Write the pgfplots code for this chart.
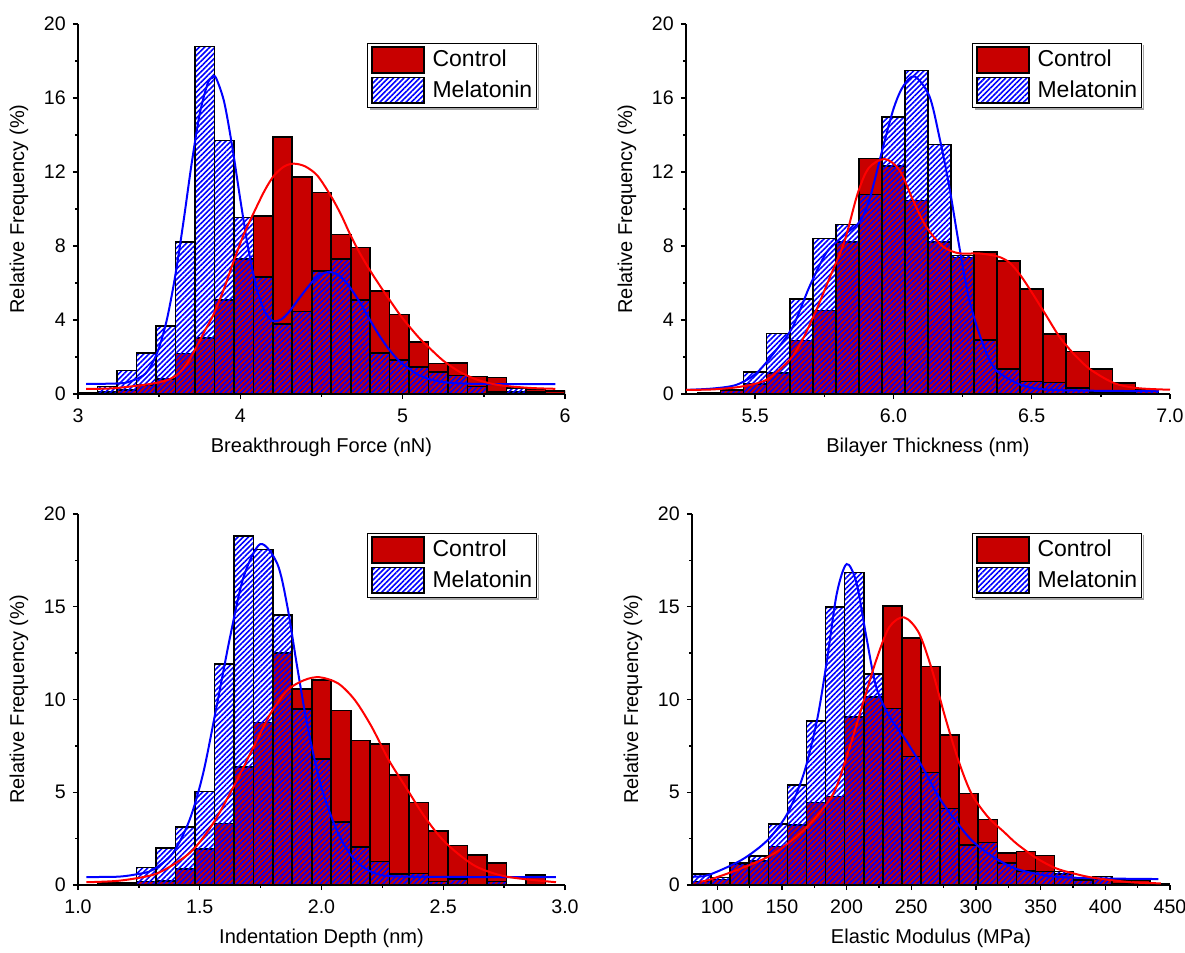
\documentclass[border=0pt]{standalone}
\usepackage{fontspec}
\setmainfont{Liberation Sans}
\usepackage{pgfplots}
\pgfplotsset{compat=1.18}
\usetikzlibrary{patterns.meta}

\definecolor{ctrlred}{RGB}{200,0,0}
\definecolor{fitblue}{RGB}{0,0,255}
\definecolor{fitred}{RGB}{255,0,0}

\pgfplotsset{
  histleg/.style={legend image code/.code={\draw[##1] (0pt,-6.4pt) rectangle (26pt,6.4pt);}},
  ctrlbars/.style={ybar, bar width=#1, bar shift=0pt, fill=ctrlred, draw=black, line width=0.8pt, histleg},
  melbars/.style={ybar, bar width=#1, bar shift=0pt, draw=black, line width=0.8pt,
    pattern={Lines[angle=45,distance=1.85pt,line width=0.8pt]}, pattern color=fitblue, histleg},
  fitline/.style={smooth, line width=1pt, forget plot, mark=none, draw=#1, fill=none},
  histpanel/.style={
    scale only axis,
    axis x line*=bottom,
    axis y line*=left,
    tick align=outside,
    major tick length=2.6pt,
    minor tick length=1.5pt,
    every tick/.style={black, line width=0.7pt},
    axis line style={black, line width=0.75pt},
    ymin=0, ymax=20,
    minor x tick num=1,
    minor y tick num=1,
    /pgf/number format/assume math mode=true,
    tick label style={font=\fontsize{9.8}{11}\selectfont},
    xticklabel style={yshift=-1.2pt},
    label style={font=\fontsize{12}{14}\selectfont},
    ylabel={Relative Frequency (\%)},
    every axis y label/.style={at={([xshift=-29.5pt]axis description cs:0,0.5)}, rotate=90, anchor=center},
    every axis x label/.style={at={([yshift=-26.5pt]axis description cs:0.5,0)}, anchor=center},
    legend cell align=left,
    legend style={
      at={([xshift=-14pt,yshift=-9.4pt]axis description cs:1,1)}, anchor=north east,
      draw=black, line width=0.5pt, fill=white,
      font=\fontsize{11.5}{13}\selectfont,
      inner xsep=1.6pt, inner ysep=1.6pt,
      row sep=1.6pt,
      nodes={inner sep=0.5pt},
      /tikz/every odd column/.append style={column sep=3.4pt},
    },
  },
}

% light grey edge along the right and lower sides of a legend box
\newcommand{\legendshade}[1]{%
  \draw[black!35, line width=0.8pt]
    ([xshift=0.65pt,yshift=-1.2pt]#1.north east) -- ([xshift=0.65pt,yshift=-0.65pt]#1.south east)
    -- ([xshift=1.2pt,yshift=-0.65pt]#1.south west);}

\begin{document}
\begin{tikzpicture}
\path[use as bounding box] (0,0) rectangle (592.5pt,476.5pt);

% ---------------- Breakthrough force ----------------
\begin{axis}[histpanel, at={(39pt,279.5pt)}, anchor=south west,
  width=243.5pt, height=185pt,
  xmin=3, xmax=6, xtick={3,4,5,6}, ytick={0,4,...,20},
  legend style={name=legA},
  xlabel={Breakthrough Force (nN)}]
\addplot[ctrlbars=0.12] coordinates {
 (3.06,0.05) (3.18,0.1) (3.30,0.2) (3.42,0.5) (3.54,0.82) (3.66,2.18) (3.78,3.03)
 (3.90,5.08) (4.02,7.3) (4.14,9.62) (4.26,13.9) (4.38,11.72) (4.50,10.9) (4.62,8.62)
 (4.74,7.92) (4.86,5.57) (4.98,4.3) (5.10,2.82) (5.22,1.65) (5.34,1.67) (5.46,0.95)
 (5.58,0.9) (5.70,0.12) (5.82,0.27) (5.94,0.15)};
\addlegendentry{Control}
\addplot[melbars=0.12] coordinates {
 (3.18,0.4) (3.30,1.26) (3.42,2.22) (3.54,3.68) (3.66,8.2) (3.78,18.78) (3.90,13.7)
 (4.02,9.55) (4.14,6.33) (4.26,3.77) (4.38,4.45) (4.50,6.65) (4.62,7.3) (4.74,5.08)
 (4.86,2.23) (4.98,1.83) (5.10,1.47) (5.22,1.2) (5.34,1.0) (5.46,0.4) (5.58,0.1)
 (5.70,0.33) (5.82,0.1)};
\addlegendentry{Melatonin}
\addplot[fitline=fitblue] coordinates {
 (3.05,0.54) (3.2,0.56) (3.3,0.62) (3.4,0.99) (3.45,1.53) (3.5,2.52) (3.55,4.12)
 (3.6,6.44) (3.65,9.33) (3.7,12.45) (3.75,15.15) (3.8,16.81) (3.83,17.1) (3.85,17.09)
 (3.9,15.8) (3.95,13.38) (4.0,10.5) (4.05,7.8) (4.1,5.73) (4.15,4.46) (4.2,3.95)
 (4.25,4.02) (4.3,4.44) (4.35,5.02) (4.4,5.6) (4.45,6.13) (4.5,6.48) (4.55,6.6)
 (4.6,6.45) (4.65,6.05) (4.7,5.45) (4.75,4.75) (4.8,3.98) (4.85,3.25) (4.9,2.6)
 (4.95,2.05) (5.0,1.62) (5.1,1.02) (5.2,0.72) (5.3,0.6) (5.4,0.56) (5.5,0.54) (5.94,0.54)};
\addplot[fitline=fitred] coordinates {
 (3.05,0.27) (3.2,0.3) (3.32,0.4) (3.45,0.55) (3.55,0.75) (3.62,1.1) (3.68,1.75)
 (3.73,2.55) (3.78,3.4) (3.835,4.3) (3.9,5.7) (3.96,7.2) (4.02,8.6) (4.083,9.8)
 (4.15,11.0) (4.207,11.8) (4.27,12.3) (4.33,12.45) (4.4,12.3) (4.475,11.8) (4.558,10.7)
 (4.62,9.7) (4.68,8.56) (4.74,7.55) (4.806,6.58) (4.87,5.72) (4.93,4.95) (4.99,4.2)
 (5.054,3.51) (5.11,2.95) (5.167,2.47) (5.25,1.8) (5.35,1.2) (5.45,0.8) (5.55,0.55)
 (5.65,0.42) (5.8,0.32) (5.94,0.28)};
\end{axis}

% ---------------- Bilayer thickness ----------------
\begin{axis}[histpanel, at={(343pt,279.5pt)}, anchor=south west,
  width=242pt, height=185pt,
  xmin=5.25, xmax=7.0, xtick={5.5,6.0,6.5,7.0}, ytick={0,4,...,20},
  xticklabel style={/pgf/number format/.cd, fixed, fixed zerofill, precision=1},
  legend style={name=legB},
  xlabel={Bilayer Thickness (nm)}]
\addplot[ctrlbars=0.08333] coordinates {
 (5.3333,0.08) (5.4167,0.25) (5.5,0.54) (5.5833,1.13) (5.6667,2.9) (5.75,4.52)
 (5.8333,8.23) (5.9167,12.72) (6.0,12.33) (6.0833,10.45) (6.1667,8.23) (6.25,7.38)
 (6.3333,7.68) (6.4167,7.2) (6.5,5.69) (6.5833,3.24) (6.6667,2.3) (6.75,1.35)
 (6.8333,0.6) (6.9167,0.23)};
\addlegendentry{Control}
\addplot[melbars=0.08333] coordinates {
 (5.3333,0.05) (5.4167,0.2) (5.5,1.2) (5.5833,3.28) (5.6667,5.12) (5.75,8.4)
 (5.8333,9.17) (5.9167,10.78) (6.0,14.97) (6.0833,17.49) (6.1667,13.48) (6.25,7.48)
 (6.3333,2.93) (6.4167,1.35) (6.5,0.68) (6.5833,0.63) (6.6667,0.32) (6.75,0.1)
 (6.8333,0.05) (6.9167,0.15)};
\addlegendentry{Melatonin}
\addplot[fitline=fitblue] coordinates {
 (5.25,0.22) (5.35,0.3) (5.433,0.5) (5.505,1.13) (5.577,2.39) (5.637,3.66)
 (5.697,5.82) (5.757,7.62) (5.817,8.52) (5.877,9.3) (5.913,10.5) (5.96,13.2)
 (6.0,15.4) (6.034,16.6) (6.076,17.17) (6.13,16.1) (6.166,13.9) (6.202,11.2)
 (6.238,7.98) (6.274,5.1) (6.322,2.76) (6.37,1.31) (6.46,0.5) (6.545,0.25)
 (6.7,0.18) (6.96,0.15)};
\addplot[fitline=fitred] coordinates {
 (5.25,0.22) (5.35,0.25) (5.45,0.4) (5.541,0.77) (5.625,1.85) (5.67,2.9) (5.72,4.5)
 (5.77,6.3) (5.823,8.25) (5.87,10.8) (5.91,12.2) (5.968,12.7) (6.022,12.1)
 (6.07,10.5) (6.118,9.05) (6.178,7.98) (6.238,7.6) (6.31,7.6) (6.378,7.43)
 (6.42,7.1) (6.46,6.4) (6.5,5.5) (6.55,4.3) (6.6,3.1) (6.65,2.2) (6.71,1.35)
 (6.796,0.6) (6.88,0.32) (7.0,0.23)};
\end{axis}

% ---------------- Indentation depth ----------------
\begin{axis}[histpanel, at={(39pt,34pt)}, anchor=south west,
  width=243.5pt, height=185.5pt,
  xmin=1.0, xmax=3.0, xtick={1.0,1.5,...,3.0}, ytick={0,5,...,20},
  xticklabel style={/pgf/number format/.cd, fixed, fixed zerofill, precision=1},
  legend style={name=legC},
  xlabel={Indentation Depth (nm)}]
\addplot[ctrlbars=0.08] coordinates {
 (1.12,0.1) (1.20,0.1) (1.28,0.18) (1.36,0.2) (1.44,0.85) (1.52,1.93) (1.60,3.32)
 (1.68,6.35) (1.76,8.75) (1.84,12.5) (1.92,10.56) (2.00,11.05) (2.08,9.4) (2.16,7.8)
 (2.24,7.61) (2.32,5.92) (2.40,4.44) (2.48,2.91) (2.56,2.12) (2.64,1.62) (2.72,1.17)
 (2.88,0.54)};
\addlegendentry{Control}
\addplot[melbars=0.08] coordinates {
 (1.12,0.05) (1.20,0.05) (1.28,0.94) (1.36,1.98) (1.44,3.13) (1.52,5.03) (1.60,11.9)
 (1.68,18.8) (1.76,18.08) (1.84,14.55) (1.92,9.5) (2.00,6.8) (2.08,3.4) (2.16,2.04)
 (2.24,1.26) (2.32,0.6) (2.40,0.63) (2.48,0.18) (2.56,0.32) (2.72,0.18)};
\addlegendentry{Melatonin}
\addplot[fitline=fitblue] coordinates {
 (1.034,0.43) (1.168,0.45) (1.25,0.6) (1.306,0.81) (1.389,1.71) (1.458,3.5)
 (1.514,6.02) (1.569,9.61) (1.625,13.4) (1.68,16.6) (1.749,18.38) (1.819,17.3)
 (1.86,15.0) (1.90,11.77) (1.943,8.53) (1.999,5.3) (2.068,2.79) (2.137,1.35)
 (2.22,0.63) (2.345,0.45) (2.963,0.43)};
\addplot[fitline=fitred] coordinates {
 (1.034,0.15) (1.168,0.23) (1.306,0.54) (1.389,1.08) (1.472,1.89) (1.555,3.32)
 (1.639,5.3) (1.722,7.46) (1.791,9.25) (1.86,10.5) (1.93,11.05) (1.992,11.2)
 (2.068,10.87) (2.137,9.97) (2.206,8.53) (2.276,6.74) (2.345,5.3) (2.414,3.86)
 (2.48,2.7) (2.542,1.89) (2.636,0.99) (2.76,0.45) (2.963,0.15)};
\end{axis}

% ---------------- Elastic modulus ----------------
\begin{axis}[histpanel, at={(346pt,34pt)}, anchor=south west,
  width=239pt, height=185.5pt,
  xmin=80.5, xmax=450, xtick={100,150,...,450}, ytick={0,5,...,20},
  legend style={name=legD},
  xlabel={Elastic Modulus (MPa)}]
\addplot[ctrlbars=14.75] coordinates {
 (87.875,0.18) (102.625,0.3) (117.375,1.1) (132.125,1.28) (146.875,2.07)
 (161.625,3.24) (176.375,4.44) (191.125,4.78) (205.875,9.05) (220.625,10.15)
 (235.375,15.05) (250.125,13.33) (264.875,11.77) (279.625,8.07) (294.375,4.94)
 (309.125,3.52) (323.875,1.74) (338.625,1.8) (353.375,1.58) (368.125,0.6)
 (382.875,0.41) (397.625,0.32) (412.375,0.27) (427.125,0.27) (441.875,0.09)};
\addlegendentry{Control}
\addplot[melbars=14.75] coordinates {
 (87.875,0.58) (102.625,0.4) (117.375,1.2) (132.125,1.57) (146.875,3.28)
 (161.625,5.38) (176.375,8.85) (191.125,15.0) (205.875,16.85) (220.625,11.36)
 (235.375,9.51) (250.125,6.92) (264.875,6.07) (279.625,4.13) (294.375,2.14)
 (309.125,2.29) (323.875,1.17) (338.625,0.77) (353.375,0.72) (368.125,0.72)
 (382.875,0.27) (397.625,0.45) (412.375,0.09) (427.125,0.05) (441.875,0.09)};
\addlegendentry{Melatonin}
\addplot[fitline=fitblue] coordinates {
 (82,0.45) (93.4,0.54) (118.8,1.35) (139.1,2.43) (154.3,3.86) (167.0,6.02)
 (177.2,8.9) (184.8,12.1) (192.4,15.7) (200,17.3) (207.6,16.3) (215.2,13.4)
 (222.8,10.7) (233.0,9.1) (245.7,7.82) (258.4,6.38) (271.1,4.76) (283.8,3.5)
 (296.4,2.43) (309.1,1.71) (321.8,1.17) (331.9,0.85) (346.8,0.6) (360.8,0.45)
 (391.7,0.36) (441,0.32)};
\addplot[fitline=fitred] coordinates {
 (87,0.2) (93.4,0.27) (118.8,0.9) (144.2,1.71) (169.5,3.14) (189.8,4.94)
 (202.5,7.46) (212.7,9.8) (222.8,12.1) (233.0,13.9) (244.4,14.43) (255.8,13.6)
 (266.0,11.6) (276.1,9.07) (286.3,6.74) (296.4,4.94) (309.1,3.68) (321.8,2.85)
 (331.9,2.2) (346.8,1.45) (361.8,0.9) (376.7,0.6) (391.7,0.38) (421,0.14) (443,0.09)};
\end{axis}

\legendshade{legA}
\legendshade{legB}
\legendshade{legC}
\legendshade{legD}
\end{tikzpicture}
\end{document}
